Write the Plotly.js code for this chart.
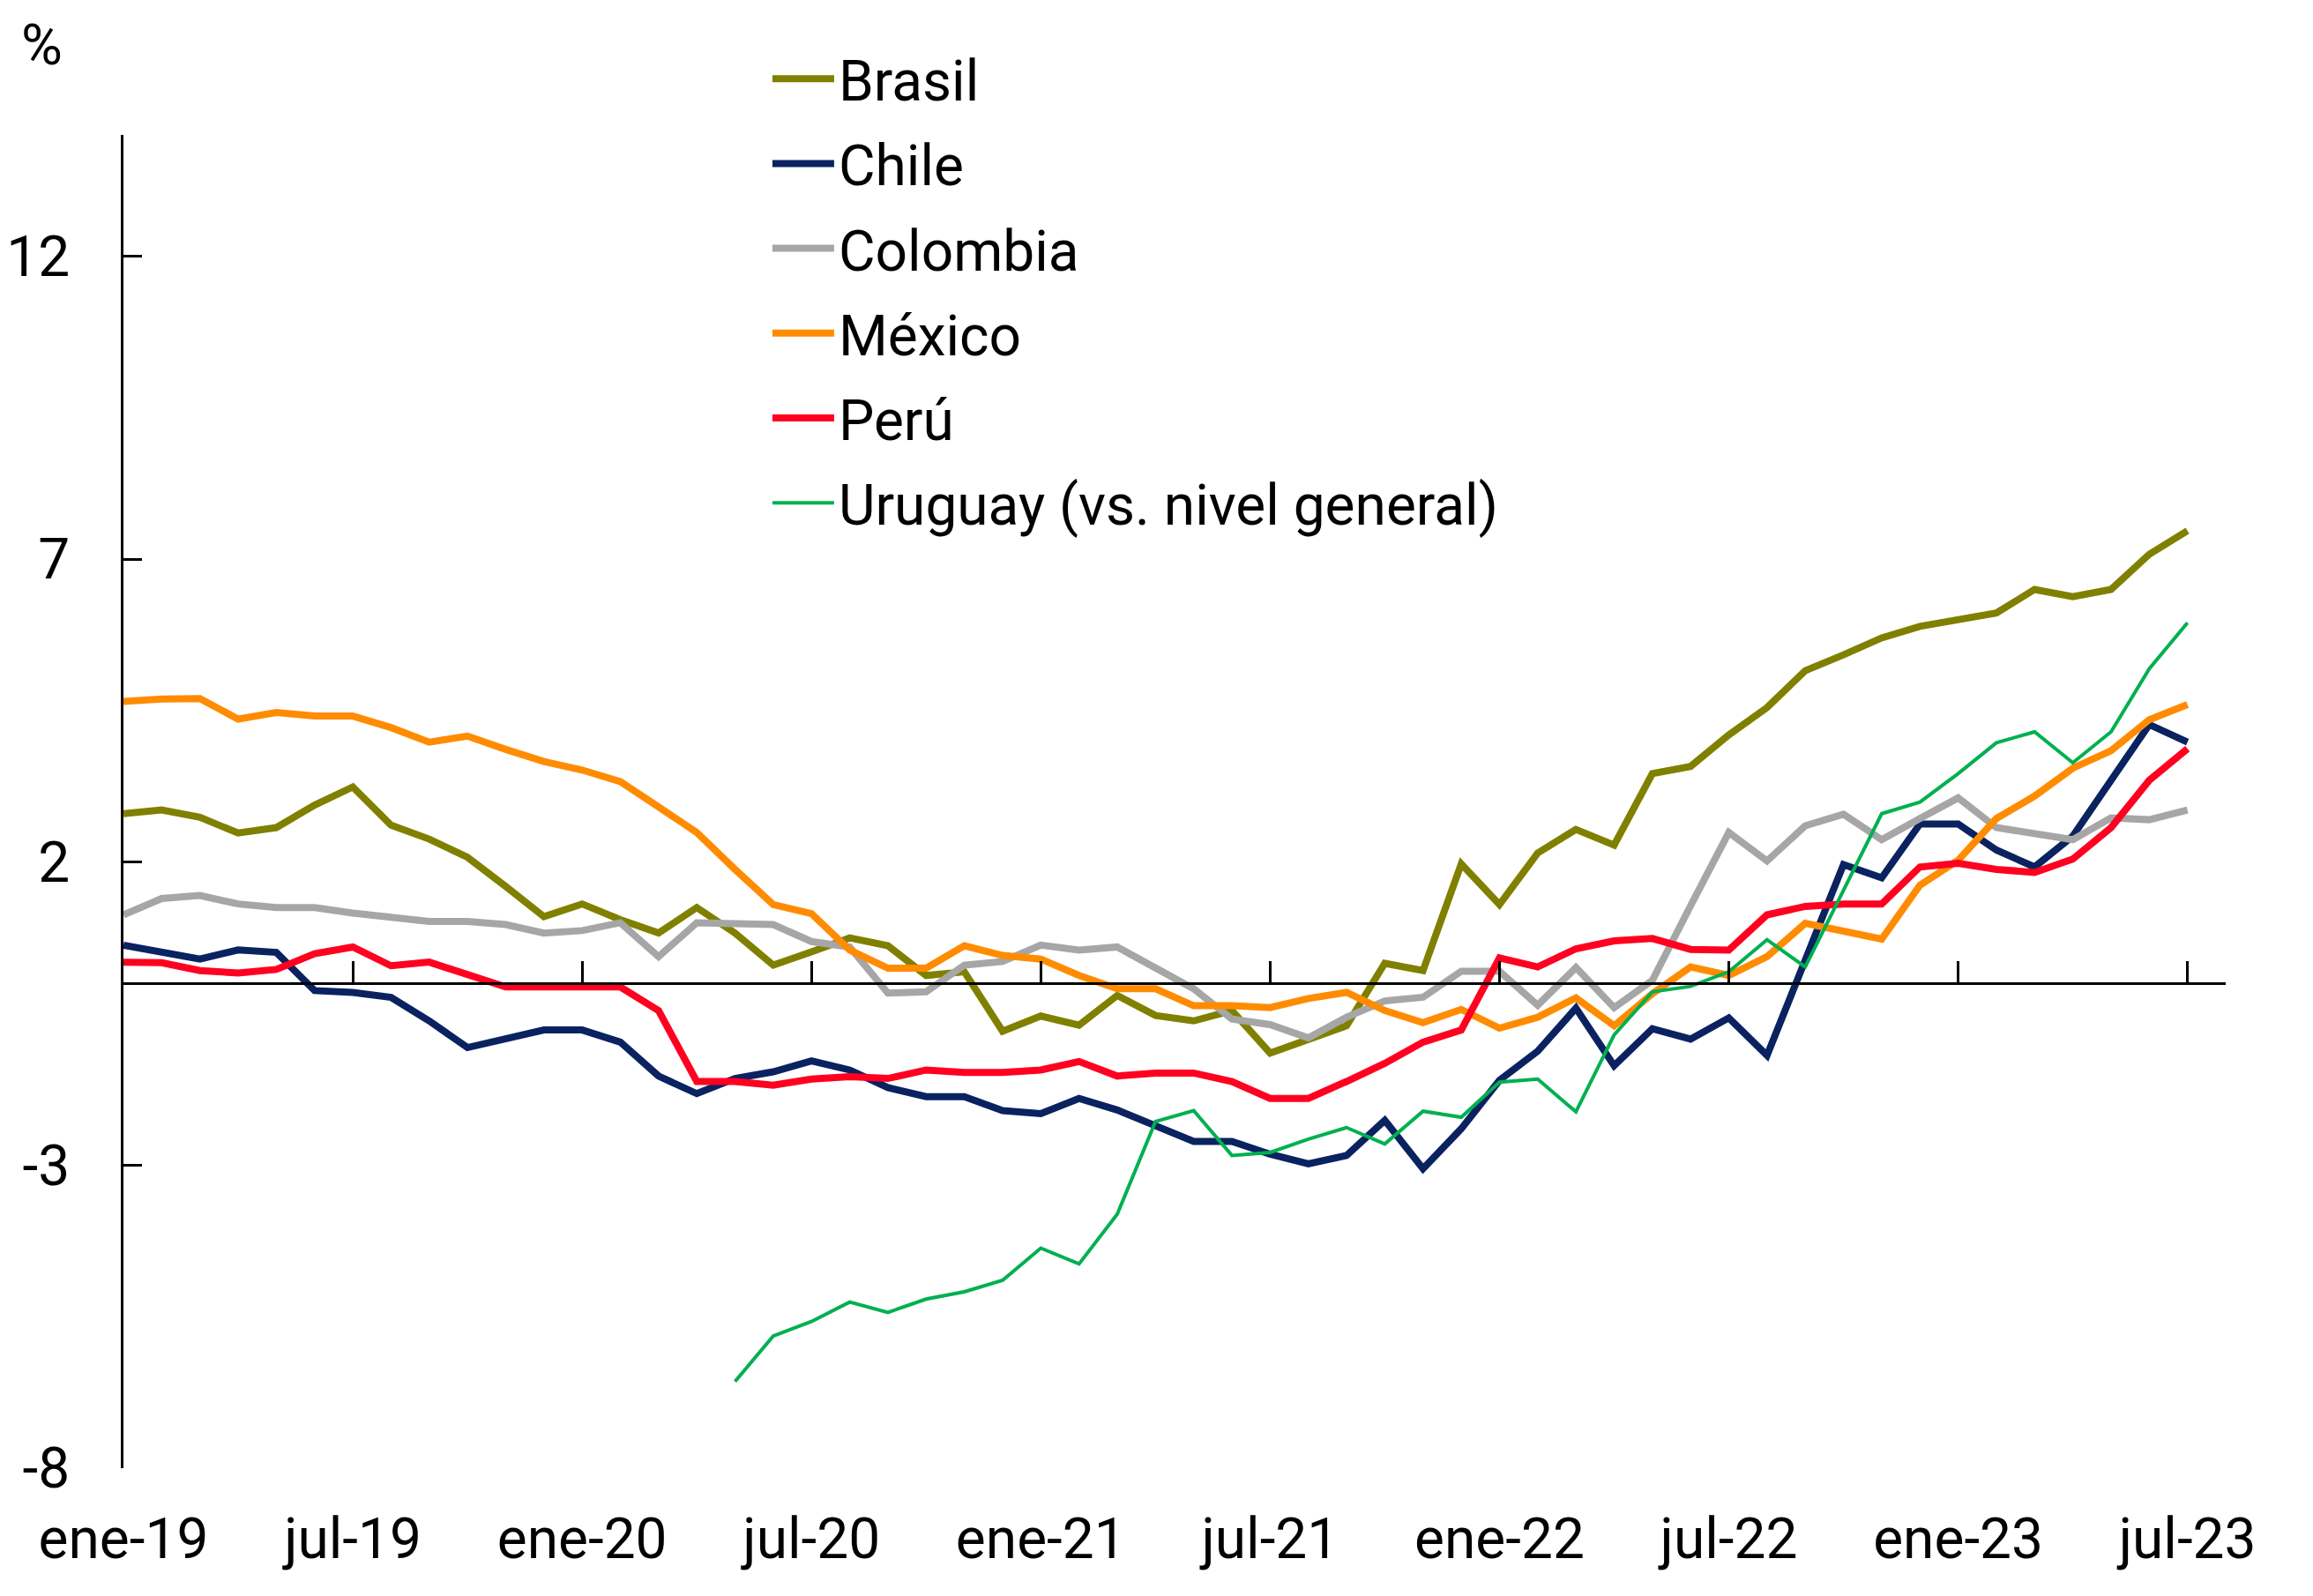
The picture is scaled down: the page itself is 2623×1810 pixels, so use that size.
<!DOCTYPE html>
<html><head><meta charset="utf-8">
<script src="https://cdn.plot.ly/plotly-3.0.1.min.js"></script>
<style>html,body{margin:0;padding:0;background:#fff}#chart{width:2623px;height:1810px}</style>
</head><body><div id="chart"></div>
<script>
// Month categories ene-19 .. jul-23
const monthAbbr = ['ene','feb','mar','abr','may','jun','jul','ago','sep','oct','nov','dic'];
const years = ['19','20','21','22','23'];
const months = [];
for (const y of years) { for (const m of monthAbbr) { if (months.length < 55) months.push(m + '-' + y); } }

const tickLabels = ['ene-19','jul-19','ene-20','jul-20','ene-21','jul-21','ene-22','jul-22','ene-23','jul-23'];
const yTicks = [-8, -3, 2, 7, 12];

const brasil = [2.80,2.86,2.74,2.48,2.57,2.94,3.24,2.61,2.38,2.08,1.60,1.10,1.31,1.05,0.83,1.25,0.83,0.30,0.52,0.75,
  0.62,0.13,0.19,-0.79,-0.54,-0.69,-0.20,-0.53,-0.62,-0.45,-1.15,-0.93,-0.70,0.33,0.21,1.97,1.30,2.15,2.54,2.28,
  3.46,3.58,4.10,4.55,5.16,5.42,5.70,5.89,5.99,6.11,6.50,6.38,6.50,7.08,7.47];
const chile = [0.63,0.51,0.40,0.55,0.51,-0.12,-0.15,-0.23,-0.62,-1.06,-0.92,-0.77,-0.77,-0.97,-1.53,-1.82,-1.57,-1.46,-1.28,-1.43,
  -1.72,-1.87,-1.87,-2.10,-2.15,-1.90,-2.09,-2.34,-2.61,-2.61,-2.82,-2.98,-2.84,-2.26,-3.06,-2.40,-1.60,-1.12,-0.41,-1.36,
  -0.75,-0.92,-0.57,-1.19,0.37,1.96,1.74,2.63,2.63,2.20,1.92,2.43,3.35,4.27,3.98];
const colombia = [1.13,1.40,1.45,1.31,1.25,1.25,1.16,1.10,1.02,1.02,0.97,0.83,0.87,1.00,0.44,1.00,0.98,0.97,0.69,0.60,
  -0.16,-0.14,0.30,0.36,0.63,0.55,0.60,0.24,-0.09,-0.59,-0.68,-0.90,-0.56,-0.29,-0.23,0.20,0.20,-0.36,0.26,-0.40,
  0.05,1.28,2.49,2.02,2.60,2.79,2.37,2.72,3.06,2.57,2.46,2.37,2.73,2.70,2.86];
const mexico = [4.65,4.69,4.70,4.36,4.47,4.41,4.41,4.22,3.98,4.08,3.86,3.66,3.52,3.33,2.91,2.49,1.88,1.30,1.15,0.55,
  0.25,0.25,0.62,0.46,0.40,0.13,-0.09,-0.09,-0.37,-0.37,-0.40,-0.25,-0.15,-0.45,-0.65,-0.43,-0.74,-0.56,-0.24,-0.70,
  -0.17,0.27,0.13,0.44,0.99,0.86,0.73,1.62,2.03,2.72,3.09,3.55,3.84,4.35,4.60];
const peru = [0.35,0.34,0.21,0.17,0.23,0.49,0.60,0.29,0.35,0.14,-0.06,-0.06,-0.06,-0.06,-0.45,-1.62,-1.62,-1.68,-1.58,-1.54,
  -1.57,-1.43,-1.47,-1.47,-1.43,-1.29,-1.53,-1.48,-1.48,-1.62,-1.90,-1.90,-1.62,-1.32,-0.97,-0.77,0.42,0.27,0.57,0.70,
  0.74,0.56,0.55,1.13,1.27,1.31,1.31,1.92,1.98,1.88,1.83,2.05,2.57,3.35,3.87];
const uruguay = [null,null,null,null,null,null,null,null,null,null,null,null,null,null,null,null,
  -6.57,-5.82,-5.58,-5.26,-5.43,-5.21,-5.09,-4.90,-4.37,-4.63,-3.81,-2.28,-2.10,-2.84,-2.79,-2.57,-2.38,-2.65,-2.11,-2.21,
  -1.63,-1.58,-2.12,-0.85,-0.14,-0.05,0.19,0.72,0.27,1.55,2.80,2.99,3.46,3.97,4.15,3.64,4.15,5.19,5.95];

const seriesNames = ['Brasil','Chile','Colombia','México','Perú','Uruguay (vs. nivel general)'];
const seriesData = [brasil, chile, colombia, mexico, peru, uruguay];
const seriesColors = ['#808000','#0A2260','#A6A6A6','#FF8C00','#FF0020','#00B050'];
const seriesWidths = [8,8,8,8,8,4];

const traces = seriesNames.map((n,i) => ({
  type:'scatter', mode:'lines', name:n, x: months, y: seriesData[i],
  line:{color: seriesColors[i], width: seriesWidths[i]},
  legendgroup:'g'+i, connectgaps:false, hoverinfo:'x+y+name'
}));

const layout = {
  width:2623, height:1810,
  margin:{l:140, r:99, t:153, b:145},
  paper_bgcolor:'#ffffff', plot_bgcolor:'#ffffff',
  font:{family:'Roboto, "Open Sans", sans-serif', size:64, color:'#000'},
  showlegend:true,
  xaxis:{type:'category', range:[0,55], anchor:'free', position: 8/22,
    showline:true, linecolor:'#000', linewidth:3, ticks:'inside', ticklen:24, tickwidth:3, tickcolor:'#000',
    tickmode:'array', tickvals: tickLabels, ticktext: tickLabels, showgrid:false, zeroline:false,
    ticklabelstandoff: 573, tickfont:{size:64, color:'#000'}},
  yaxis:{range:[-8,14], showline:true, linecolor:'#000', linewidth:3, ticks:'inside', ticklen:21, tickwidth:3, tickcolor:'#000',
    tickmode:'array', tickvals: yTicks, ticktext: yTicks.map(String), showgrid:false, zeroline:false,
    ticklabelstandoff: 45, tickfont:{size:64, color:'#000'}},
  legend:{x:0.3066, xanchor:'left', y:1.074, yanchor:'top', font:{size:64, color:'#000'}, tracegroupgap:10,
    itemwidth:70, bgcolor:'rgba(0,0,0,0)', borderwidth:0},
  annotations:[{text:'%', xref:'paper', yref:'paper', x:-0.039, y:1.067, xanchor:'center', yanchor:'middle',
    showarrow:false, font:{size:64, color:'#000'}}]
};

Plotly.newPlot('chart', traces, layout, {displayModeBar:false, staticPlot:true});
</script>
</body></html>
